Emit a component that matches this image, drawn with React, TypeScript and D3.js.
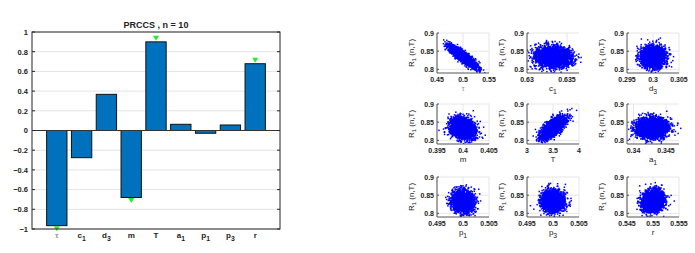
import React from "react";
import * as d3 from "d3";

// ---------- Bar chart data (PRCC values) ----------
const categories = ["τ", "c1", "d3", "m", "T", "a1", "p1", "p3", "r"];
const prccValues = [-0.966, -0.276, 0.367, -0.68, 0.9, 0.063, -0.028, 0.056, 0.678];
const significant = [true, false, false, true, true, false, false, false, true];
const yTicks = [-1, -0.8, -0.6, -0.4, -0.2, 0, 0.2, 0.4, 0.6, 0.8, 1];

// ---------- Scatter panel data ----------
const panelNames = ["τ", "c1", "d3", "m", "T", "a1", "p1", "p3", "r"];
const panelXDomains: [number, number][] = [
  [0.45, 0.55], [0.63, 0.6365], [0.295, 0.305],
  [0.395, 0.405], [3, 4], [0.339, 0.347],
  [0.495, 0.505], [0.495, 0.505], [0.545, 0.555],
];
const panelXTicks = [
  [0.45, 0.5, 0.55], [0.63, 0.635], [0.295, 0.3, 0.305],
  [0.395, 0.4, 0.405], [3, 3.5, 4], [0.34, 0.345],
  [0.495, 0.5, 0.505], [0.495, 0.5, 0.505], [0.545, 0.55, 0.555],
];
const panelXCenters = [0.5, 0.6333, 0.3, 0.4, 3.5, 0.3428, 0.5, 0.5, 0.55];
const panelXSpread = [0.012, 0.0011, 0.0011, 0.0011, 0.11, 0.0012, 0.001, 0.001, 0.001];
const panelYCenters = [0.835, 0.834, 0.834, 0.833, 0.835, 0.834, 0.833, 0.833, 0.834];
const panelYSpread = 0.014;
const panelCorr = [-0.87, -0.1, 0.0, -0.2, 0.68, 0.05, -0.05, 0.0, 0.1];
const rYDomain: [number, number] = [0.79, 0.9];
const rYTicks = [0.8, 0.85, 0.9];
const pointCount = 2800;

function Label({ name, x, y, size, anchor = "middle", fill = "#222", weight = "bold" }: any) {
  const base = name[0];
  const sub = name.slice(1);
  return (
    <text x={x} y={y} fontSize={size} textAnchor={anchor} fill={fill} fontWeight={weight}>
      {base}
      {sub && (
        <tspan dy={size * 0.35} fontSize={size * 0.85}>
          {sub}
        </tspan>
      )}
    </text>
  );
}

function BarChart() {
  const left = 32, right = 280, top = 32, bottom = 229;
  const x = d3.scaleLinear().domain([0, 10]).range([left, right]);
  const y = d3.scaleLinear().domain([-1, 1]).range([bottom, top]);
  const bw = (x(1) - x(0)) * 0.82;
  const font = "'Liberation Sans', Arial, sans-serif";
  return (
    <g fontFamily={font}>
      <rect x={left} y={top} width={right - left} height={bottom - top} fill="#fff" />
      {yTicks.map((t) => (
        <line key={t} x1={left} x2={right} y1={y(t)} y2={y(t)} stroke="#e3e3e3" strokeWidth={1} />
      ))}
      {prccValues.map((v, i) => {
        const cx = x(i + 1);
        const y0 = y(Math.max(0, v));
        const h = Math.abs(y(v) - y(0));
        return (
          <rect key={i} x={cx - bw / 2} y={y0} width={bw} height={Math.max(h, 0.5)}
            fill="#0072BD" stroke="#111" strokeWidth={1} />
        );
      })}
      <line x1={left} x2={right} y1={y(0)} y2={y(0)} stroke="#333" strokeWidth={1} />
      {prccValues.map((v, i) => {
        if (!significant[i]) return null;
        const cx = x(i + 1);
        const cy = v > 0 ? y(v) - 3.5 : y(v) + 3;
        return (
          <path key={"m" + i} d={`M${cx - 3},${cy - 2.5} L${cx + 3},${cy - 2.5} L${cx},${cy + 2.5} Z`}
            fill="#22ee22" />
        );
      })}
      <rect x={left} y={top} width={right - left} height={bottom - top} fill="none" stroke="#262626" strokeWidth={1} />
      {yTicks.map((t) => (
        <g key={"t" + t}>
          <line x1={left} x2={left + 3} y1={y(t)} y2={y(t)} stroke="#262626" />
          <line x1={right} x2={right - 3} y1={y(t)} y2={y(t)} stroke="#262626" />
          <text x={left - 4} y={y(t) + 2.8} fontSize={7.5} textAnchor="end" fontWeight="bold" fill="#222">
            {d3.format("")(+t.toFixed(1))}
          </text>
        </g>
      ))}
      {categories.map((c, i) => (
        <Label key={c} name={c} x={x(i + 1)} y={bottom + 9} size={8} fill={i === 0 ? "#999" : "#222"} />
      ))}
      <text x={(left + right) / 2} y={28} fontSize={9} textAnchor="middle" fontWeight="bold" fill="#222">
        PRCCS , n = 10
      </text>
    </g>
  );
}

function Scatter({ idx, left, top }: { idx: number; left: number; top: number }) {
  const w = 52, h = 40;
  const x = d3.scaleLinear().domain(panelXDomains[idx]).range([left, left + w]);
  const y = d3.scaleLinear().domain(rYDomain).range([top + h, top]);
  const rng = d3.randomLcg(0.123 + idx * 0.071);
  const nrm = d3.randomNormal.source(rng)(0, 1);
  const rho = panelCorr[idx];
  const pts: [number, number][] = [];
  for (let k = 0; k < pointCount; k++) {
    const a = nrm(), b = nrm();
    const px = panelXCenters[idx] + panelXSpread[idx] * a;
    const py = panelYCenters[idx] + panelYSpread * (rho * a + Math.sqrt(1 - rho * rho) * b);
    pts.push([px, py]);
  }
  const font = "'Liberation Sans', Arial, sans-serif";
  const clipId = "clip" + idx;
  return (
    <g fontFamily={font}>
      <defs>
        <clipPath id={clipId}>
          <rect x={left} y={top - 2} width={w + 3} height={h + 2} />
        </clipPath>
      </defs>
      {panelXTicks[idx].map((t) => (
        <line key={"gx" + t} x1={x(t)} x2={x(t)} y1={top} y2={top + h} stroke="#e6e6e6" />
      ))}
      {rYTicks.map((t) => (
        <line key={"gy" + t} x1={left} x2={left + w} y1={y(t)} y2={y(t)} stroke="#e6e6e6" />
      ))}
      <g clipPath={`url(#${clipId})`}>
        {pts.map((p, k) => (
          <rect key={k} x={x(p[0]) - 0.75} y={y(p[1]) - 0.75} width={1.5} height={1.5} fill="#0000ff" />
        ))}
      </g>
      <line x1={left} x2={left} y1={top} y2={top + h} stroke="#555" strokeWidth={1} />
      <line x1={left} x2={left + w} y1={top + h} y2={top + h} stroke="#555" strokeWidth={1} />
      {rYTicks.map((t) => (
        <g key={"ty" + t}>
          <line x1={left} x2={left + 2} y1={y(t)} y2={y(t)} stroke="#555" />
          <text x={left - 3} y={y(t) + 2.5} fontSize={7} textAnchor="end" fontWeight="bold" fill="#222">
            {t}
          </text>
        </g>
      ))}
      {panelXTicks[idx].map((t) => (
        <text key={"tx" + t} x={x(t)} y={top + h + 9} fontSize={7} textAnchor="middle" fontWeight="bold" fill="#222">
          {t}
        </text>
      ))}
      <Label name={panelNames[idx]} x={left + w / 2} y={top + h + 18} size={8} fill={idx === 0 ? "#999" : "#222"} weight="normal" />
      <text transform={`translate(${left - 23},${top + h / 2}) rotate(-90)`} fontSize={8} textAnchor="middle" fill="#222">
        R<tspan dy={2} fontSize={6}>1</tspan><tspan dy={-2}> (n,T)</tspan>
      </text>
    </g>
  );
}

export default function App() {
  const colLefts = [437, 527, 627];
  const rowTops = [33, 104, 177];
  return (
    <svg width={695} height={253} style={{ position: "absolute", left: 0, top: 0, background: "#fff" }}>
      <rect width={695} height={253} fill="#fff" />
      <BarChart />
      {panelNames.map((_, i) => (
        <Scatter key={i} idx={i} left={colLefts[i % 3]} top={rowTops[Math.floor(i / 3)]} />
      ))}
    </svg>
  );
}
